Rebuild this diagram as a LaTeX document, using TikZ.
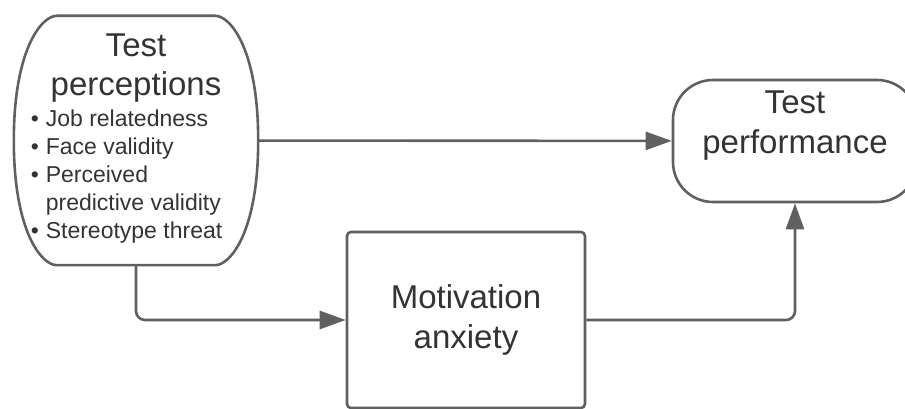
\documentclass[tikz,border=0pt]{standalone}
\usepackage{fontspec}
\setmainfont{Liberation Sans}
\usepackage{tikz}
\usepackage{xcolor}
\usetikzlibrary{arrows.meta}

\definecolor{edgegray}{HTML}{606060}
\definecolor{textgray}{HTML}{333333}
\newcommand{\headsize}{\fontsize{33}{40}\selectfont}
\newcommand{\itemsize}{\fontsize{23}{28}\selectfont}

\begin{document}
\begin{tikzpicture}[
  x=1pt, y=1pt,
  outline/.style={draw=edgegray, line width=2.6pt},
  plainbox/.style={inner sep=0pt, minimum width=244pt, minimum height=249pt, text=textgray, font=\itemsize},
  pillbox/.style={outline, rounded corners=40pt, minimum width=244pt, minimum height=122pt, text=textgray},
  squarebox/.style={outline, rounded corners=4pt, align=center, minimum width=238pt, minimum height=176pt, text=textgray, font=\headsize},
  arrow/.style={draw=edgegray, line width=2.6pt, rounded corners=9pt, -{Triangle[length=26pt, width=18pt]}}
]
\useasboundingbox (0,0) rectangle (905,409);
\node[plainbox] (percep) at (136,268.5) {%
  \begin{tabular}{@{}l@{\hspace{7pt}}l@{\hspace{19pt}}}
    \multicolumn{2}{@{}c@{}}{\headsize Test}\\[6pt]
    \multicolumn{2}{@{}c@{}}{\headsize perceptions}\\[3pt]
    \textbullet & Job relatedness\\
    \textbullet & Face validity\\
    \textbullet & Perceived\\
                & predictive validity\\
    \textbullet & Stereotype threat
  \end{tabular}};
\draw[outline] ([xshift=43pt]percep.north west) -- ([xshift=-43pt]percep.north east)
  .. controls ([xshift=-28pt]percep.north east) and ([yshift=-33pt]percep.north east) .. (percep.east)
  .. controls ([yshift=33pt]percep.south east) and ([xshift=-28pt]percep.south east) .. ([xshift=-43pt]percep.south east)
  -- ([xshift=43pt]percep.south west)
  .. controls ([xshift=28pt]percep.south west) and ([yshift=33pt]percep.south west) .. (percep.west)
  .. controls ([yshift=-33pt]percep.north west) and ([xshift=28pt]percep.north west) .. ([xshift=43pt]percep.north west)
  -- cycle;
\node[pillbox, label={[text=textgray, font=\headsize, align=center, yshift=15pt]center:{Test\\performance}}] (perf) at (795,268) {};
\node[squarebox] (motiv) at (466,89) {Motivation\\anxiety};
\draw[arrow] (percep) -- (perf);
\draw[arrow] (percep.south) |- (motiv.west);
\draw[arrow] (motiv.east) -| (perf.south);
\end{tikzpicture}
\end{document}
